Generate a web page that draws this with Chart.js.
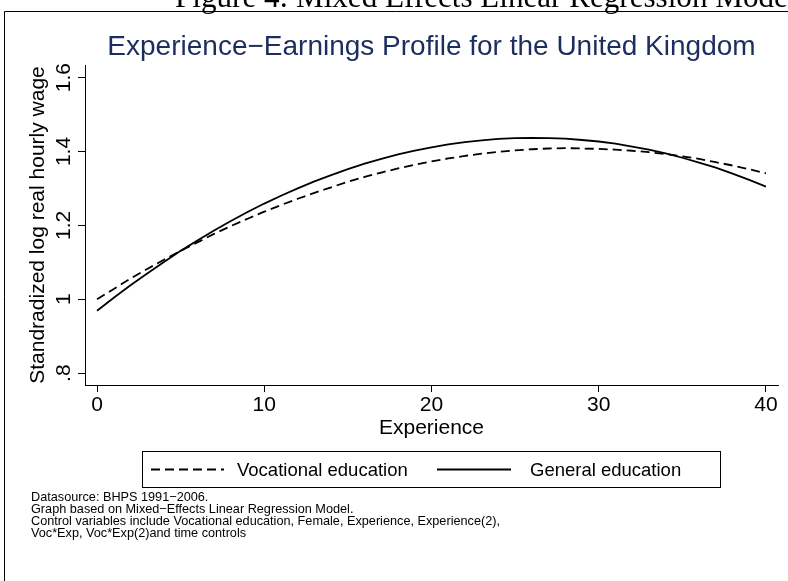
<!DOCTYPE html>
<html>
<head>
<meta charset="utf-8">
<script src="https://cdn.jsdelivr.net/npm/chart.js@4.4.0/dist/chart.umd.min.js"></script>
<style>
  html, body { margin: 0; padding: 0; background: #fff; overflow: hidden; }
</style>
</head>
<body>
<canvas id="c" width="788" height="581"></canvas>
<script>
// data (experience in years, standardized log wage)
var experience = [0,1,2,3,4,5,6,7,8,9,10,11,12,13,14,15,16,17,18,19,20,
                  21,22,23,24,25,26,27,28,29,30,31,32,33,34,35,36,37,38,39,40];

var vocational = [1.000,1.028,1.056,1.082,1.107,1.131,1.154,1.177,1.198,1.218,1.237,
                  1.255,1.272,1.288,1.303,1.318,1.331,1.343,1.354,1.364,1.373,
                  1.381,1.388,1.394,1.399,1.403,1.406,1.408,1.409,1.408,1.407,
                  1.405,1.402,1.398,1.393,1.387,1.380,1.371,1.362,1.352,1.341];

var general = [0.969,1.004,1.038,1.070,1.101,1.131,1.159,1.186,1.212,1.236,1.259,
               1.280,1.300,1.319,1.336,1.352,1.367,1.380,1.392,1.402,1.411,
               1.419,1.425,1.430,1.434,1.436,1.437,1.436,1.435,1.431,1.427,
               1.421,1.413,1.405,1.395,1.383,1.370,1.356,1.340,1.323,1.305];

var xTicks = [0, 10, 20, 30, 40];
var yTicks = [0.8, 1.0, 1.2, 1.4, 1.6];
var yTickLabels = ['.8', '1', '1.2', '1.4', '1.6'];

var notes = [
  'Datasource: BHPS 1991\u22122006.',
  'Graph based on Mixed\u2212Effects Linear Regression Model.',
  'Control variables include Vocational education, Female, Experience, Experience(2),',
  'Voc*Exp, Voc*Exp(2)and time controls'
];

var FONT = '"Liberation Sans", Arial, Helvetica, sans-serif';

//frame, caption, rotated y labels, legend and notes
var extras = {
  id: 'extras',
  beforeDraw: function(chart) {
    var ctx = chart.ctx;
    ctx.save();
    ctx.fillStyle = '#fff';
    ctx.fillRect(0, 0, chart.width, chart.height);
    ctx.restore();
  },
  afterDraw: function(chart) {
    var ctx = chart.ctx;
    ctx.save();

    // outer frame of the figure
    ctx.strokeStyle = '#000';
    ctx.lineWidth = 1;
    ctx.beginPath();
    ctx.moveTo(4.5, chart.height + 5);
    ctx.lineTo(4.5, 11.5);
    ctx.lineTo(chart.width + 5, 11.5);
    ctx.stroke();

    // document caption cut at the top
    var cap = 'Figure 4: Mixed Effects Linear Regression Model';
    ctx.font = '24px "Liberation Serif", "DejaVu Serif", serif';
    var w = ctx.measureText('Figure 4: Mixed Effects Linear Regression Mode').width;
    var size = 24 * 613 / w;
    ctx.font = size + 'px "Liberation Serif", "DejaVu Serif", serif';
    ctx.fillStyle = '#000';
    ctx.textAlign = 'left';
    ctx.textBaseline = 'alphabetic';
    ctx.fillText(cap, 175, 7);

    // y tick labels, turned like the axis title
    var ys = chart.scales.y;
    ctx.font = '21px ' + FONT;
    ctx.textAlign = 'center';
    ctx.textBaseline = 'middle';
    yTicks.forEach(function(v, i) {
      var py = ys.getPixelForValue(v);
      ctx.save();
      ctx.translate(64, py);
      ctx.rotate(-Math.PI / 2);
      ctx.fillText(yTickLabels[i], 0, 0);
      ctx.restore();
    });

    // legend
    var lx = 142.5, ly = 451.5, lw = 578, lh = 36;
    ctx.strokeRect(lx, ly, lw, lh);
    var cy = ly + lh / 2;
    var items = [
      {ds: chart.data.datasets[0], x0: 151, x1: 224, tx: 237},
      {ds: chart.data.datasets[1], x0: 437, x1: 511, tx: 530}
    ];
    ctx.font = '18.5px ' + FONT;
    ctx.textAlign = 'left';
    items.forEach(function(it) {
      ctx.save();
      ctx.lineWidth = it.ds.borderWidth;
      ctx.strokeStyle = it.ds.borderColor;
      ctx.setLineDash(it.ds.borderDash || []);
      ctx.beginPath();
      ctx.moveTo(it.x0, cy);
      ctx.lineTo(it.x1, cy);
      ctx.stroke();
      ctx.restore();
      ctx.fillText(it.ds.label, it.tx, cy + 1);
    });

    // notes
    ctx.font = '12.7px ' + FONT;
    notes.forEach(function(t, i) {
      ctx.fillText(t, 31, 497 + i * 12);
    });

    ctx.restore();
  }
};

var ctx = document.getElementById('c');

var myChart = new Chart(ctx, {
  type: 'line',
  data: {
    datasets: [{
      label: 'Vocational education',
      data: experience.map(function(x, i) { return {x: x, y: vocational[i]}; }),
      borderColor: '#000',
      borderWidth: 1.8,
      borderDash: [9, 5],
      pointRadius: 0,
      fill: false
    }, {
      label: 'General education',
      data: experience.map(function(x, i) { return {x: x, y: general[i]}; }),
      borderColor: '#000',
      borderWidth: 1.8,
      pointRadius: 0,
      fill: false
    }]
  },
  options: {
    responsive: false,
    animation: false,
    devicePixelRatio: 1,
    layout: {
      padding: {left: 0, right: 10, top: 0, bottom: 140.4}
    },
    plugins: {
      legend: { display: false },
      tooltip: { enabled: false },
      title: {
        display: true,
        fullSize: false,
        text: 'Experience\u2212Earnings Profile for the United Kingdom',
        color: '#1c2d5f',
        font: { family: FONT, size: 28, weight: 'normal' },
        padding: { top: 30, bottom: 1.4 }
      }
    },
    scales: {
      x: {
        type: 'linear',
        min: -0.72,
        max: 40.72,
        afterBuildTicks: function(scale) {
          scale.ticks = xTicks.map(function(v) { return {value: v}; });
        },
        afterFit: function(scale) { scale.height = 55.6; },
        border: { display: true, color: '#000', width: 1 },
        grid: { display: true, drawOnChartArea: false, drawTicks: true, tickLength: 7, color: '#000' },
        ticks: {
          color: '#000',
          font: { family: FONT, size: 21 },
          padding: 1,
          maxRotation: 0,
          autoSkip: false
        },
        title: {
          display: true,
          text: 'Experience',
          color: '#000',
          font: { family: FONT, size: 21 },
          padding: { top: 0, bottom: 0 }
        }
      },
      y: {
        type: 'linear',
        min: 0.768,
        max: 1.634,
        afterBuildTicks: function(scale) {
          scale.ticks = yTicks.map(function(v) { return {value: v}; });
        },
        afterFit: function(scale) { scale.width = 85; },
        border: { display: true, color: '#000', width: 1 },
        grid: { display: true, drawOnChartArea: false, drawTicks: true, tickLength: 7, color: '#000' },
        ticks: { display: false },
        title: {
          display: true,
          text: 'Standradized log real hourly wage',
          color: '#000',
          font: { family: FONT, size: 21 },
          padding: { top: 26, bottom: 0 }
        }
      }
    }
  },
  plugins: [extras]
});
</script>
</body>
</html>
